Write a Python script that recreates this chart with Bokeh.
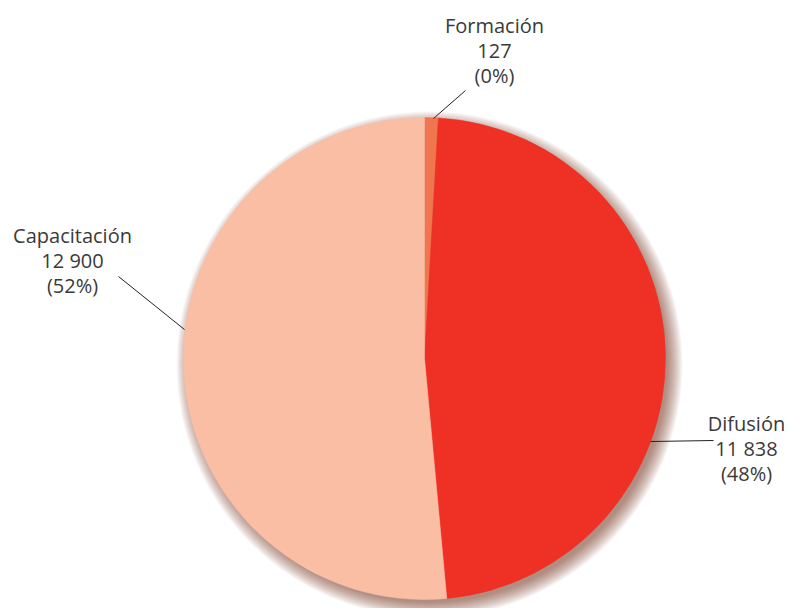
import math
from bokeh.plotting import figure
from bokeh.models import Range1d
from bokeh.core.properties import value
from bokeh.embed import file_html
from bokeh.resources import INLINE

# data
categories = ["Formación", "Difusión", "Capacitación"]
values = [127, 11838, 12900]
value_labels = ["127", "11 838", "12 900"]
pct_labels = ["(0%)", "(48%)", "(52%)"]
colors = ["#F07650", "#EE3124", "#F9BEA4"]

W, H = 790, 608
p = figure(width=W, height=H, output_backend="svg", toolbar_location=None,
           x_range=Range1d(0, W), y_range=Range1d(612 - H, 612),
           min_border=0)
p.axis.visible = False
p.grid.visible = False
p.outline_line_color = None
p.background_fill_color = "white"

cx, cy, r = 424, 612 - 358, 241

# soft shadow
n = 16
for i in range(n):
    p.circle(x=[cx + 5], y=[cy - 6], radius=r - 3 + i, fill_color="#5a1a0c",
             fill_alpha=0.04, line_color=None)

# wedges, clockwise from top (tiny slices shown with a minimum angle)
min_angle = math.radians(3.3)
total = sum(values)
angles = [2 * math.pi * v / total for v in values]
extra = 0.0
for i, a in enumerate(angles):
    if a < min_angle:
        extra += min_angle - a
        angles[i] = min_angle
angles[-1] -= extra
start = math.pi / 2
starts, ends = [], []
for a in angles:
    starts.append(start)
    ends.append(start - a)
    start -= a
p.wedge(x=[cx] * 3, y=[cy] * 3, radius=r, start_angle=starts, end_angle=ends,
        direction="clock", fill_color=colors, line_color=colors, line_width=0.5)

# labels (layout)
label_x = [494, 746, 72]
label_y = [25, 423, 235]
lead = [((433, 118), (465, 90)), ((650, 441), (713, 440)), ((184, 329), (118, 276))]
for i in range(3):
    lines = [categories[i], value_labels[i], pct_labels[i]]
    xs = [label_x[i]] * 3
    ys = [612 - (label_y[i] + 25 * k) for k in range(3)]
    p.text(x=xs, y=ys, text=lines, text_align="center", text_baseline="middle",
           text_font=value("Open Sans"), text_font_size="20px", text_color="#3a3a3a")
    (x0, y0), (x1, y1) = lead[i]
    p.line(x=[x0, x1], y=[612 - y0, 612 - y1], line_color="#222222", line_width=1)

open("out.html", "w").write(file_html(p, INLINE))
